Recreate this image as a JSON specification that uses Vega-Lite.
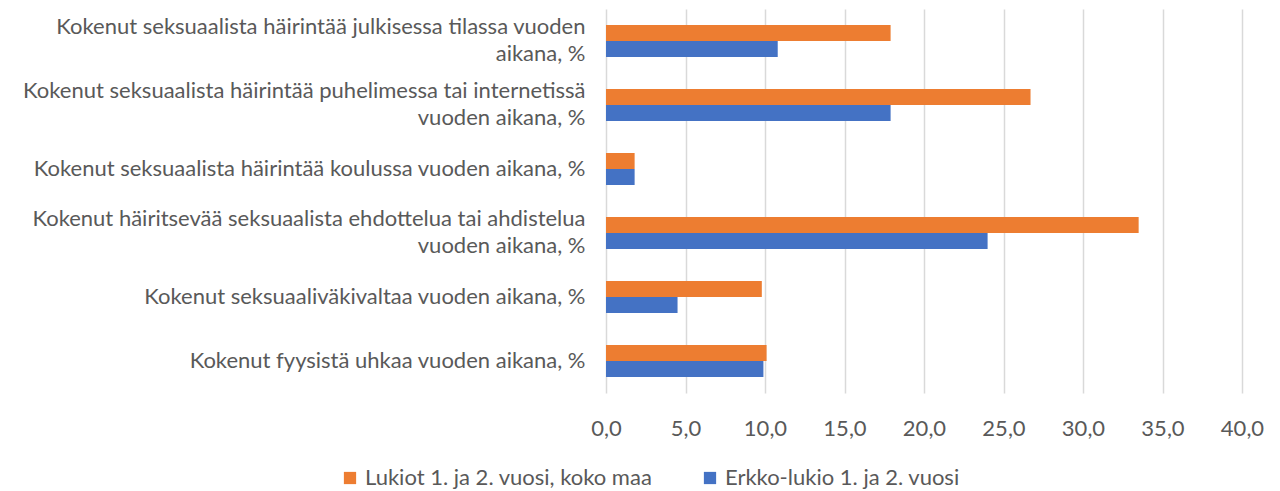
{
  "$schema": "https://vega.github.io/schema/vega-lite/v6.json",
  "width": 636,
  "height": 384,
  "autosize": {"type": "none"},
  "padding": {"left": 606, "top": 9, "right": 38, "bottom": 98},
  "background": "white",
  "data": {
    "values": [
      {"kategoria": "Kokenut seksuaalista häirintää julkisessa tilassa vuoden\naikana, %", "sarja": "Lukiot 1. ja 2. vuosi, koko maa", "arvo": 17.9},
      {"kategoria": "Kokenut seksuaalista häirintää julkisessa tilassa vuoden\naikana, %", "sarja": "Erkko-lukio 1. ja 2. vuosi", "arvo": 10.8},
      {"kategoria": "Kokenut seksuaalista häirintää puhelimessa tai internetissä\nvuoden aikana, %", "sarja": "Lukiot 1. ja 2. vuosi, koko maa", "arvo": 26.7},
      {"kategoria": "Kokenut seksuaalista häirintää puhelimessa tai internetissä\nvuoden aikana, %", "sarja": "Erkko-lukio 1. ja 2. vuosi", "arvo": 17.9},
      {"kategoria": "Kokenut seksuaalista häirintää koulussa vuoden aikana, %", "sarja": "Lukiot 1. ja 2. vuosi, koko maa", "arvo": 1.8},
      {"kategoria": "Kokenut seksuaalista häirintää koulussa vuoden aikana, %", "sarja": "Erkko-lukio 1. ja 2. vuosi", "arvo": 1.8},
      {"kategoria": "Kokenut häiritsevää seksuaalista ehdottelua tai ahdistelua\nvuoden aikana, %", "sarja": "Lukiot 1. ja 2. vuosi, koko maa", "arvo": 33.5},
      {"kategoria": "Kokenut häiritsevää seksuaalista ehdottelua tai ahdistelua\nvuoden aikana, %", "sarja": "Erkko-lukio 1. ja 2. vuosi", "arvo": 24.0},
      {"kategoria": "Kokenut seksuaaliväkivaltaa vuoden aikana, %", "sarja": "Lukiot 1. ja 2. vuosi, koko maa", "arvo": 9.8},
      {"kategoria": "Kokenut seksuaaliväkivaltaa vuoden aikana, %", "sarja": "Erkko-lukio 1. ja 2. vuosi", "arvo": 4.5},
      {"kategoria": "Kokenut fyysistä uhkaa vuoden aikana, %", "sarja": "Lukiot 1. ja 2. vuosi, koko maa", "arvo": 10.1},
      {"kategoria": "Kokenut fyysistä uhkaa vuoden aikana, %", "sarja": "Erkko-lukio 1. ja 2. vuosi", "arvo": 9.9}
    ]
  },
  "mark": {"type": "bar"},
  "encoding": {
    "y": {
      "field": "kategoria",
      "type": "nominal",
      "sort": null,
      "scale": {"paddingInner": 0.5, "paddingOuter": 0.25},
      "axis": {
        "title": null,
        "ticks": false,
        "domain": false,
        "labelExpr": "split(datum.label, '\\n')",
        "labelFont": "Lato",
        "labelFontSize": 22,
        "labelColor": "#595959",
        "labelPadding": 21,
        "labelLimit": 0,
        "labelLineHeight": 27,
        "labelOffset": {"condition": {"test": "indexof(datum.value, '\\n') >= 0", "value": -14}, "value": 0}
      }
    },
    "yOffset": {
      "field": "sarja",
      "type": "nominal",
      "sort": ["Lukiot 1. ja 2. vuosi, koko maa", "Erkko-lukio 1. ja 2. vuosi"],
      "scale": {"paddingInner": 0, "paddingOuter": 0}
    },
    "x": {
      "field": "arvo",
      "type": "quantitative",
      "scale": {"domain": [0, 40], "nice": false},
      "axis": {
        "title": null,
        "values": [0, 5, 10, 15, 20, 25, 30, 35, 40],
        "labelExpr": "replace(format(datum.value, '.1f'), '.', ',')",
        "labelFlush": false,
        "ticks": false,
        "domain": false,
        "grid": true,
        "gridColor": "#d9d9d9",
        "gridWidth": 1.5,
        "labelFont": "Lato",
        "labelFontSize": 22,
        "labelColor": "#595959",
        "labelPadding": 25
      }
    },
    "color": {
      "field": "sarja",
      "type": "nominal",
      "scale": {
        "domain": ["Lukiot 1. ja 2. vuosi, koko maa", "Erkko-lukio 1. ja 2. vuosi"],
        "range": ["#ED7D31", "#4472C4"]
      },
      "legend": {
        "title": null,
        "orient": "none",
        "direction": "horizontal",
        "legendX": -267,
        "legendY": 458,
        "symbolType": "square",
        "symbolSize": 150,
        "symbolStrokeWidth": 0,
        "labelFont": "Lato",
        "labelFontSize": 22,
        "labelColor": "#595959",
        "labelOffset": 4,
        "columnPadding": 46,
        "labelLimit": 0
      }
    }
  },
  "config": {"view": {"stroke": null}}
}
